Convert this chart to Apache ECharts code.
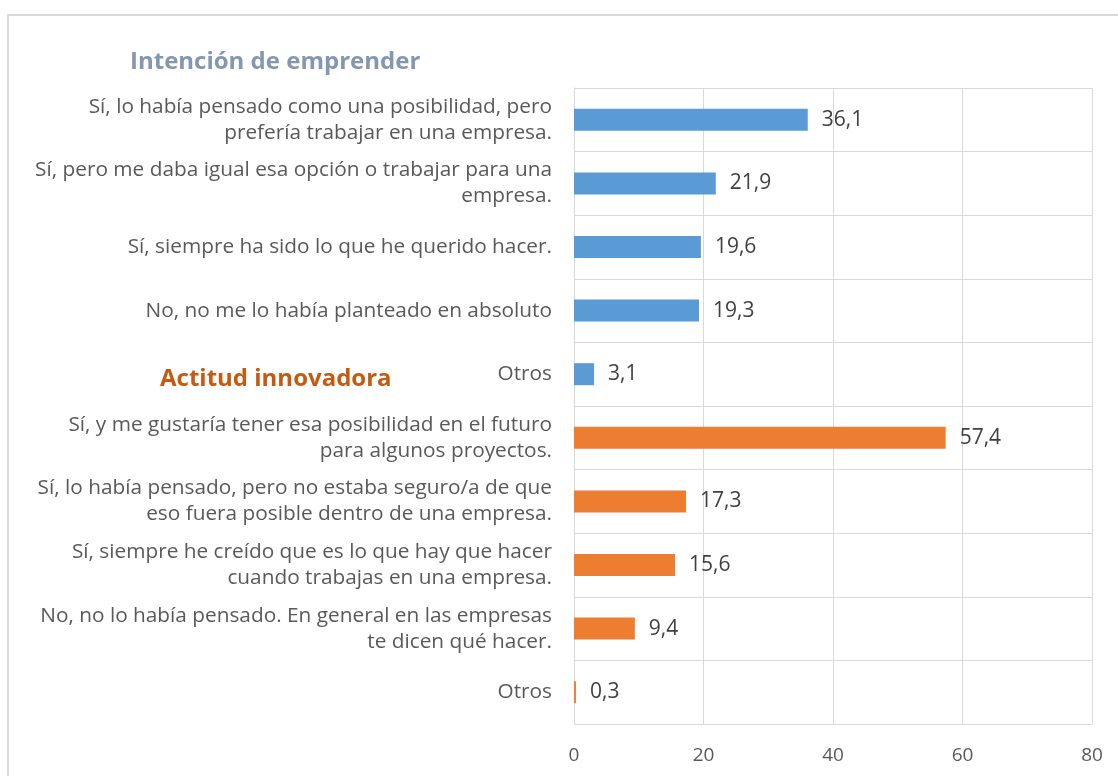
<!DOCTYPE html>
<html>
<head>
<meta charset="utf-8">
<script src="https://cdn.jsdelivr.net/npm/echarts@6/dist/echarts.min.js"></script>
<style>
  html, body { margin: 0; padding: 0; background: #fff; }
  #chart { width: 1118px; height: 776px; }
</style>
</head>
<body>
<div id="chart"></div>
<script>
// categorias de arriba a abajo
var categories = [
  "Sí, lo había pensado como una posibilidad, pero\nprefería trabajar en una empresa.",
  "Sí, pero me daba igual esa opción o trabajar para una\nempresa.",
  "Sí, siempre ha sido lo que he querido hacer.",
  "No, no me lo había planteado en absoluto",
  "Otros",
  "Sí, y me gustaría tener esa posibilidad en el futuro\npara algunos proyectos.",
  "Sí, lo había pensado, pero no estaba seguro/a de que\neso fuera posible dentro de una empresa.",
  "Sí, siempre he creído que es lo que hay que hacer\ncuando trabajas en una empresa.",
  "No, no lo había pensado. En general en las empresas\nte dicen qué hacer.",
  "Otros"
];
var values = [36.1, 21.9, 19.6, 19.3, 3.1, 57.4, 17.3, 15.6, 9.4, 0.3];
// 0 = intencion de emprender, 1 = actitud innovadora
var groups = [0, 0, 0, 0, 0, 1, 1, 1, 1, 1];
var groupColors = ["#5b9bd5", "#ed7d31"];
var xTicks = [0, 20, 40, 60, 80];

var font = "Open Sans";

var chart = echarts.init(document.getElementById("chart"));

var option = {
  animation: false,
  textStyle: { fontFamily: font },
  title: [
    {
      text: "Intención de emprender",
      left: 130,
      top: 50,
      padding: 0,
      textStyle: { fontSize: 24, fontWeight: "bold", color: "#8497b0", fontFamily: font }
    },
    {
      text: "Actitud innovadora",
      left: 160,
      top: 367,
      padding: 0,
      textStyle: { fontSize: 24, fontWeight: "bold", color: "#c55a11", fontFamily: font }
    }
  ],
  graphic: [
    {
      type: "rect",
      shape: { x: 8, y: 15, width: 1130, height: 800 },
      style: { fill: "none", stroke: "#d9d9d9", lineWidth: 2 },
      silent: true,
      z: -10
    }
  ],
  grid: { left: 574, right: 26, top: 88, bottom: 52 },
  xAxis: {
    type: "value",
    min: xTicks[0],
    max: xTicks[xTicks.length - 1],
    interval: 20,
    axisLine: { show: false },
    axisTick: { show: false },
    axisLabel: { color: "#595959", fontSize: 19, margin: 22 },
    splitLine: { show: true, lineStyle: { color: "#d9d9d9", width: 1 } }
  },
  yAxis: {
    type: "category",
    data: categories,
    inverse: true,
    axisLine: { show: true, lineStyle: { color: "#d9d9d9" } },
    axisTick: { show: false },
    axisLabel: {
      color: "#595959",
      fontSize: 20.8,
      lineHeight: 26,
      margin: 22,
      align: "right",
      interval: 0
    },
    splitLine: { show: true, interval: 0, lineStyle: { color: "#d9d9d9", width: 1 } }
  },
  series: [
    {
      type: "bar",
      barWidth: 22,
      data: values.map(function (v, i) {
        return { value: v, itemStyle: { color: groupColors[groups[i]] } };
      }),
      label: {
        show: true,
        position: "right",
        distance: 14,
        color: "#404040",
        fontSize: 21,
        formatter: function (p) {
          return p.value.toFixed(1).replace(".", ",");
        }
      }
    }
  ]
};

chart.setOption(option);
</script>
</body>
</html>
